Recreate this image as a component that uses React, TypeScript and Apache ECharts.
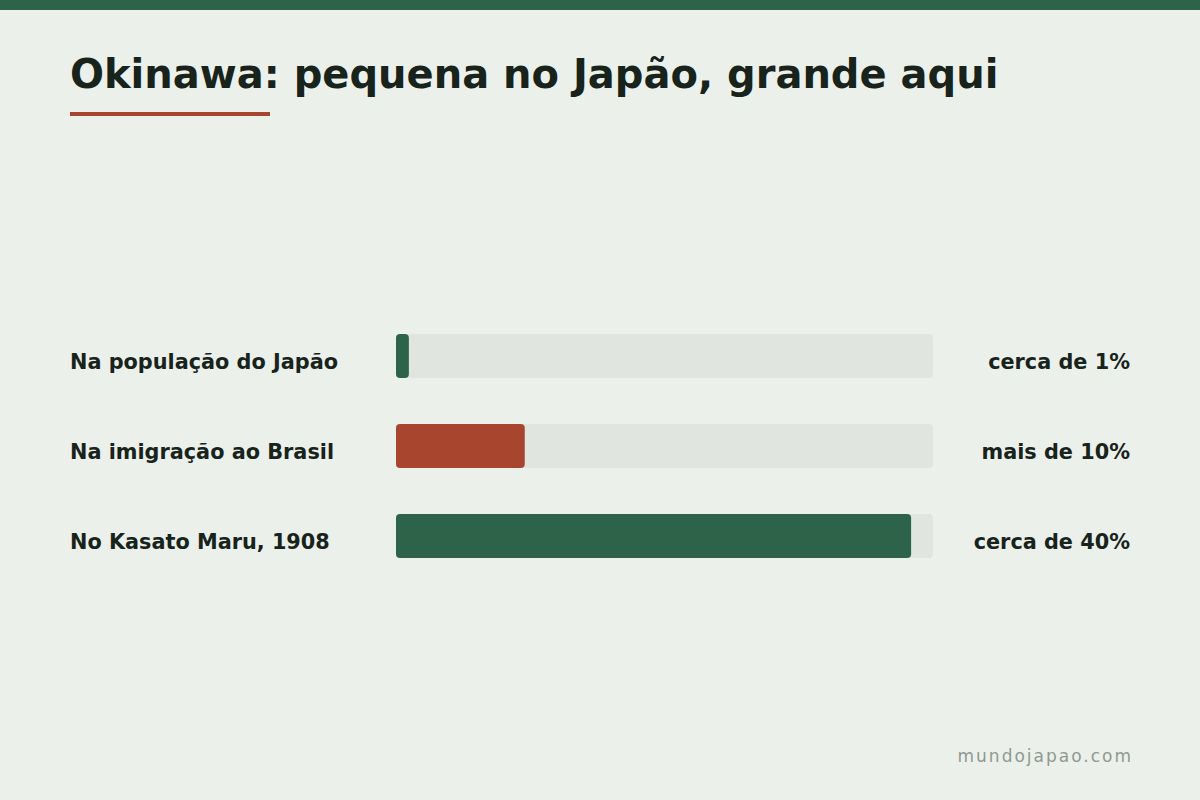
import React, { useEffect, useRef } from "react";
import * as echarts from "echarts";

const categories = ["Na população do Japão", "Na imigração ao Brasil", "No Kasato Maru, 1908"];
const values = [1, 10, 40];
const valueLabels = ["cerca de 1%", "mais de 10%", "cerca de 40%"];
const barColors = ["#2D6349", "#A8452F", "#2D6349"];
const axisMax = 41.7;
const titleText = "Okinawa: pequena no Japão, grande aqui";
const footerText = "mundojapao.com";

export default function App() {
  const ref = useRef<HTMLDivElement>(null);
  useEffect(() => {
    document.body.style.margin = "0";
    const chart = echarts.init(ref.current!, null, { renderer: "svg" });
    const font = "'DejaVu Sans', sans-serif";
    chart.setOption({
      animation: false,
      backgroundColor: "#ECF0EB",
      title: {
        text: titleText,
        left: 70,
        top: 54,
        padding: 0,
        textStyle: { fontFamily: font, fontWeight: "bold", fontSize: 40, color: "#17231B" },
      },
      grid: { left: 396, right: 267, top: 311, height: 270 },
      xAxis: { type: "value", min: 0, max: axisMax, show: false },
      yAxis: [
        {
          type: "category",
          data: categories,
          inverse: true,
          axisLine: { show: false },
          axisTick: { show: false },
          axisLabel: {
            align: "left",
            verticalAlign: "top",
            lineHeight: 11,
            margin: 326,
            fontFamily: font,
            fontWeight: "bold",
            fontSize: 20.8,
            color: "#17231B",
          },
        },
        {
          type: "category",
          data: valueLabels,
          inverse: true,
          position: "right",
          axisLine: { show: false },
          axisTick: { show: false },
          axisLabel: {
            align: "right",
            verticalAlign: "top",
            lineHeight: 11,
            margin: 197,
            fontFamily: font,
            fontWeight: "bold",
            fontSize: 20.8,
            color: "#17231B",
          },
        },
      ],
      series: [
        {
          type: "bar",
          yAxisIndex: 0,
          barWidth: 44,
          data: values.map((v, i) => ({ value: v, itemStyle: { color: barColors[i] } })),
          itemStyle: { borderRadius: 4 },
          showBackground: true,
          backgroundStyle: { color: "#E0E6DF", borderRadius: 4 },
        },
      ],
      graphic: [
        { type: "rect", shape: { x: 0, y: 0, width: 1200, height: 10 }, style: { fill: "#2D6349" } },
        { type: "rect", shape: { x: 70, y: 112, width: 200, height: 4 }, style: { fill: "#A8452F" } },
        {
          type: "text",
          right: 69,
          top: 747,
          style: { text: footerText, fontFamily: font, fontSize: 17, fill: "#8E9A90" },
        },
      ],
    });
    const texts = ref.current!.querySelectorAll("text");
    texts.forEach((t) => {
      if (t.textContent === footerText) {
        t.setAttribute("letter-spacing", "2");
        const x = parseFloat(t.getAttribute("x") || "0");
        t.setAttribute("x", String(x - 26));
      }
    });
    return () => chart.dispose();
  }, []);
  return <div ref={ref} style={{ width: 1200, height: 800 }} />;
}
